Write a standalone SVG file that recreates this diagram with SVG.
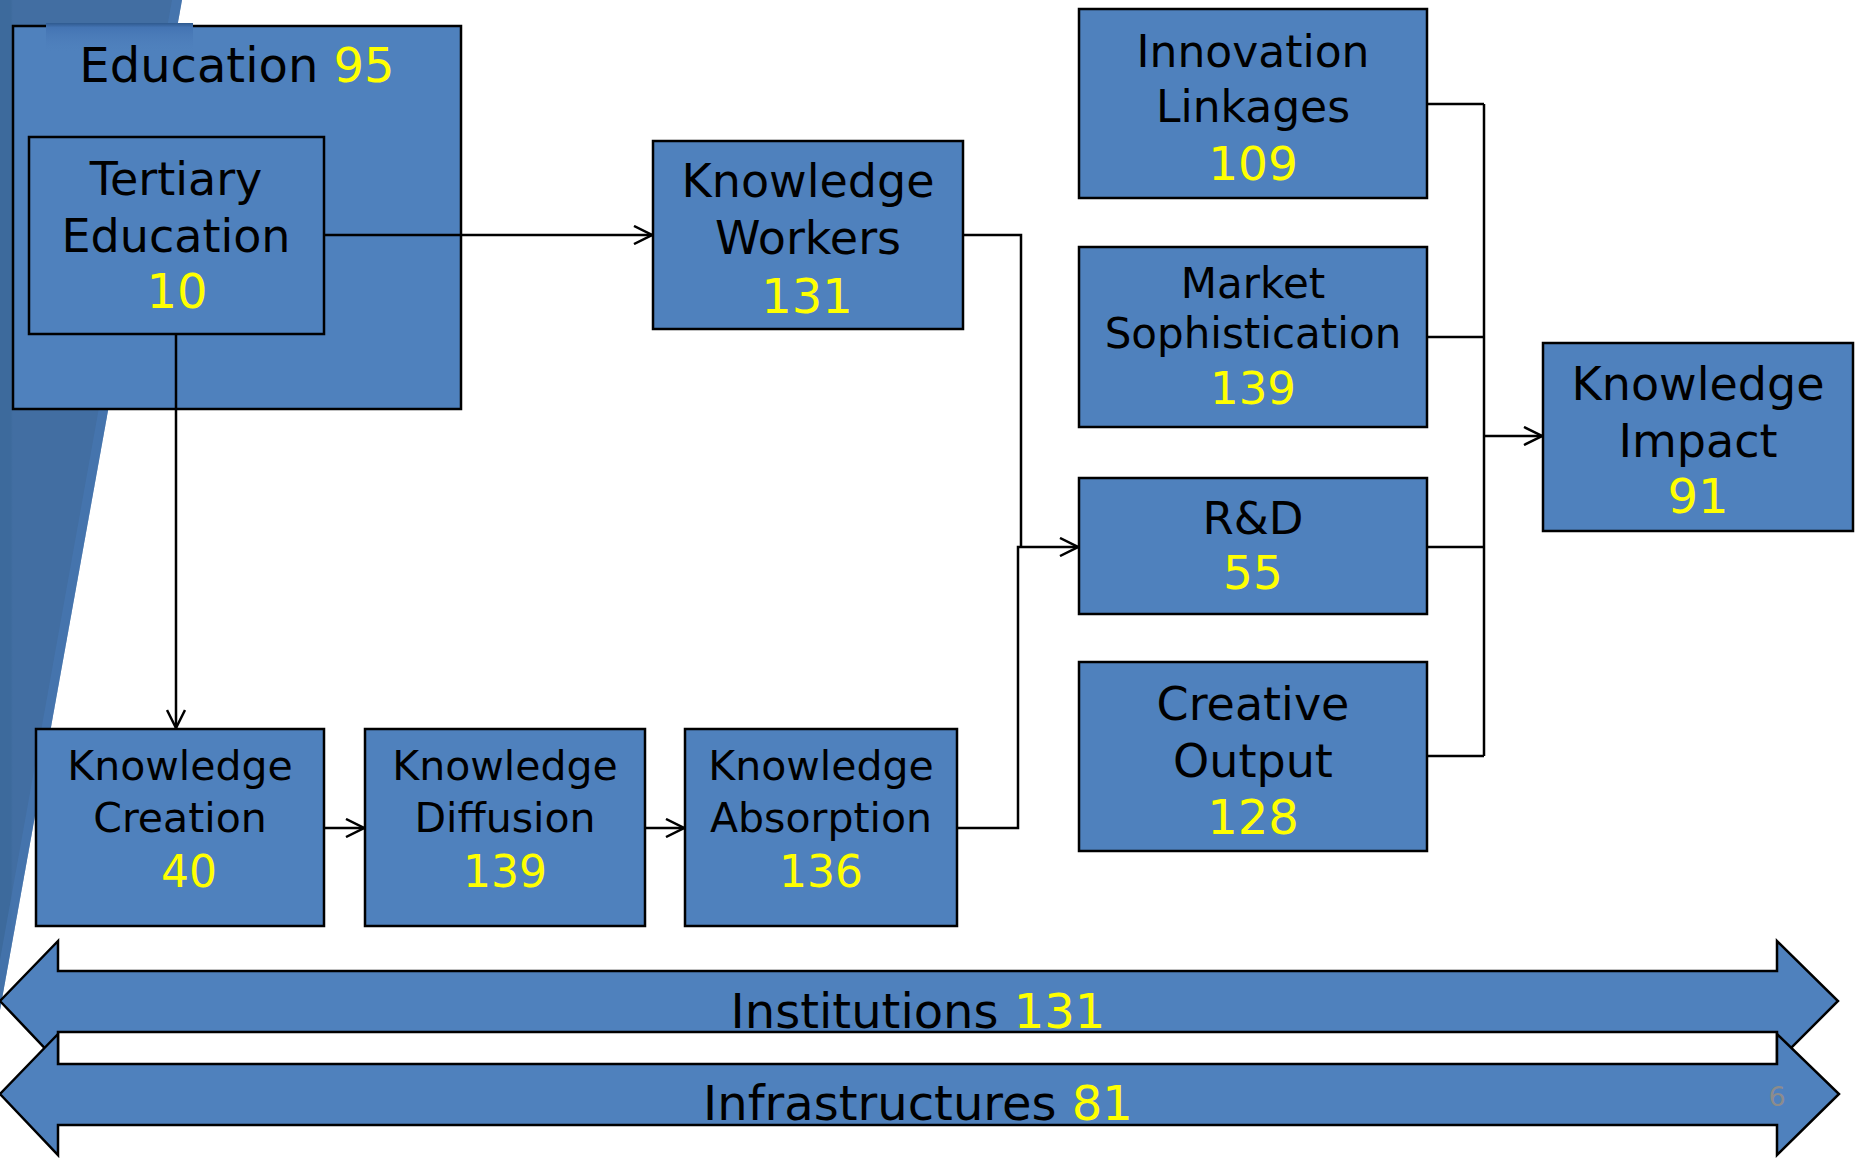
<svg xmlns="http://www.w3.org/2000/svg" width="1860" height="1160" viewBox="0 0 1860 1160">
  <defs>
    <linearGradient id="deco" x1="0" y1="0" x2="1" y2="0">
      <stop offset="0" stop-color="#3d6a9c"/>
      <stop offset="0.06" stop-color="#3d6a9c"/>
      <stop offset="0.07" stop-color="#426ea2"/>
      <stop offset="1" stop-color="#426ea2"/>
    </linearGradient>
    <linearGradient id="topbar" x1="0" y1="0" x2="0" y2="1">
      <stop offset="0" stop-color="#2f5a8f"/>
      <stop offset="0.15" stop-color="#4474b3"/>
      <stop offset="1" stop-color="#4f81bd" stop-opacity="0"/>
    </linearGradient>
    <marker id="arr" viewBox="0 0 20 20" refX="19" refY="10" markerWidth="20" markerHeight="20" markerUnits="userSpaceOnUse" orient="auto">
      <path d="M1,1 L19,10 L1,19" fill="none" stroke="#000" stroke-width="2.5"/>
    </marker>
    <style>
      .box{fill:#4f81bd;stroke:#000;stroke-width:2.5}
      .band{fill:#4f81bd;stroke:#000;stroke-width:2.5;stroke-linejoin:miter}
      .t{font-family:"DejaVu Sans",Verdana,sans-serif;fill:#000;text-anchor:middle}
      .n{fill:#ffff00}
      .c{fill:none;stroke:#000;stroke-width:2.5}
    </style>
  </defs>

  <rect x="0" y="0" width="1860" height="1160" fill="#ffffff"/>
  <!-- background decoration -->
  <polygon points="0,0 182,0 0,1010" fill="url(#deco)"/>
  <polygon points="172,0 182,0 0,1010 0,960" fill="#4778b4" opacity="0.6"/>

  <!-- nodes -->
  <g id="education">
    <rect class="box" x="13" y="26" width="448" height="383"/>
    <rect x="46" y="23" width="147" height="30" fill="url(#topbar)"/>
    <text class="t" x="237" y="82" font-size="48">Education <tspan class="n">95</tspan></text>
  </g>
  <g id="tertiary-education">
    <rect class="box" x="29" y="137" width="295" height="197"/>
    <text class="t" x="176" y="195" font-size="46">Tertiary</text>
    <text class="t" x="176" y="252" font-size="46">Education</text>
    <text class="t n" x="177" y="308" font-size="48">10</text>
  </g>
  <g id="knowledge-workers">
    <rect class="box" x="653" y="141" width="310" height="188"/>
    <text class="t" x="808" y="197" font-size="46">Knowledge</text>
    <text class="t" x="808" y="254" font-size="46">Workers</text>
    <text class="t n" x="807" y="313" font-size="48">131</text>
  </g>
  <g id="knowledge-creation">
    <rect class="box" x="36" y="729" width="288" height="197"/>
    <text class="t" x="180" y="780" font-size="41">Knowledge</text>
    <text class="t" x="180" y="832" font-size="41">Creation</text>
    <text class="t n" x="189" y="887" font-size="44">40</text>
  </g>
  <g id="knowledge-diffusion">
    <rect class="box" x="365" y="729" width="280" height="197"/>
    <text class="t" x="505" y="780" font-size="41">Knowledge</text>
    <text class="t" x="505" y="832" font-size="41">Diffusion</text>
    <text class="t n" x="505" y="887" font-size="44">139</text>
  </g>
  <g id="knowledge-absorption">
    <rect class="box" x="685" y="729" width="272" height="197"/>
    <text class="t" x="821" y="780" font-size="41">Knowledge</text>
    <text class="t" x="821" y="832" font-size="41">Absorption</text>
    <text class="t n" x="821" y="887" font-size="44">136</text>
  </g>
  <g id="innovation-linkages">
    <rect class="box" x="1079" y="9" width="348" height="189"/>
    <text class="t" x="1253" y="67" font-size="44">Innovation</text>
    <text class="t" x="1253" y="122" font-size="44">Linkages</text>
    <text class="t n" x="1253" y="180" font-size="47">109</text>
  </g>
  <g id="market-sophistication">
    <rect class="box" x="1079" y="247" width="348" height="180"/>
    <text class="t" x="1253" y="298" font-size="42">Market</text>
    <text class="t" x="1253" y="348" font-size="42">Sophistication</text>
    <text class="t n" x="1253" y="404" font-size="45">139</text>
  </g>
  <g id="r-and-d">
    <rect class="box" x="1079" y="478" width="348" height="136"/>
    <text class="t" x="1253" y="534" font-size="45">R&amp;D</text>
    <text class="t n" x="1253" y="589" font-size="47">55</text>
  </g>
  <g id="creative-output">
    <rect class="box" x="1079" y="662" width="348" height="189"/>
    <text class="t" x="1253" y="720" font-size="46">Creative</text>
    <text class="t" x="1253" y="777" font-size="46">Output</text>
    <text class="t n" x="1253" y="834" font-size="48">128</text>
  </g>
  <g id="knowledge-impact">
    <rect class="box" x="1543" y="343" width="310" height="188"/>
    <text class="t" x="1698" y="400" font-size="46">Knowledge</text>
    <text class="t" x="1698" y="457" font-size="46">Impact</text>
    <text class="t n" x="1698" y="513" font-size="48">91</text>
  </g>

  <!-- bands -->
  <g id="institutions">
    <polygon class="band" points="0,1001 58,941 58,971 1777,971 1777,941 1838,1001 1777,1062 1777,1032 58,1032 58,1062"/>
    <text class="t" x="918" y="1028" font-size="48">Institutions <tspan class="n">131</tspan></text>
  </g>
  <g id="infrastructures">
    <polygon class="band" points="0,1094 58,1034 58,1064 1777,1064 1777,1034 1839,1094 1777,1155 1777,1125 58,1125 58,1155"/>
    <text class="t" x="918" y="1120" font-size="48">Infrastructures <tspan class="n">81</tspan></text>
  </g>

  <!-- connectors -->
  <g id="connectors">
    <path class="c" d="M324,235 H652" marker-end="url(#arr)"/>
    <path class="c" d="M176,334 V728" marker-end="url(#arr)"/>
    <path class="c" d="M324,828 H364" marker-end="url(#arr)"/>
    <path class="c" d="M645,828 H684" marker-end="url(#arr)"/>
    <path class="c" d="M963,235 H1021 V547"/>
    <path class="c" d="M957,828 H1018 V547 H1078" marker-end="url(#arr)"/>
    <path class="c" d="M1427,104 H1484"/>
    <path class="c" d="M1427,337 H1484"/>
    <path class="c" d="M1427,547 H1484"/>
    <path class="c" d="M1427,756 H1484"/>
    <path class="c" d="M1484,104 V756"/>
    <path class="c" d="M1484,436 H1542" marker-end="url(#arr)"/>
  </g>

  <text x="1777" y="1106" font-family="DejaVu Sans, sans-serif" font-size="27" fill="#8c8c8c" text-anchor="middle">6</text>
</svg>
